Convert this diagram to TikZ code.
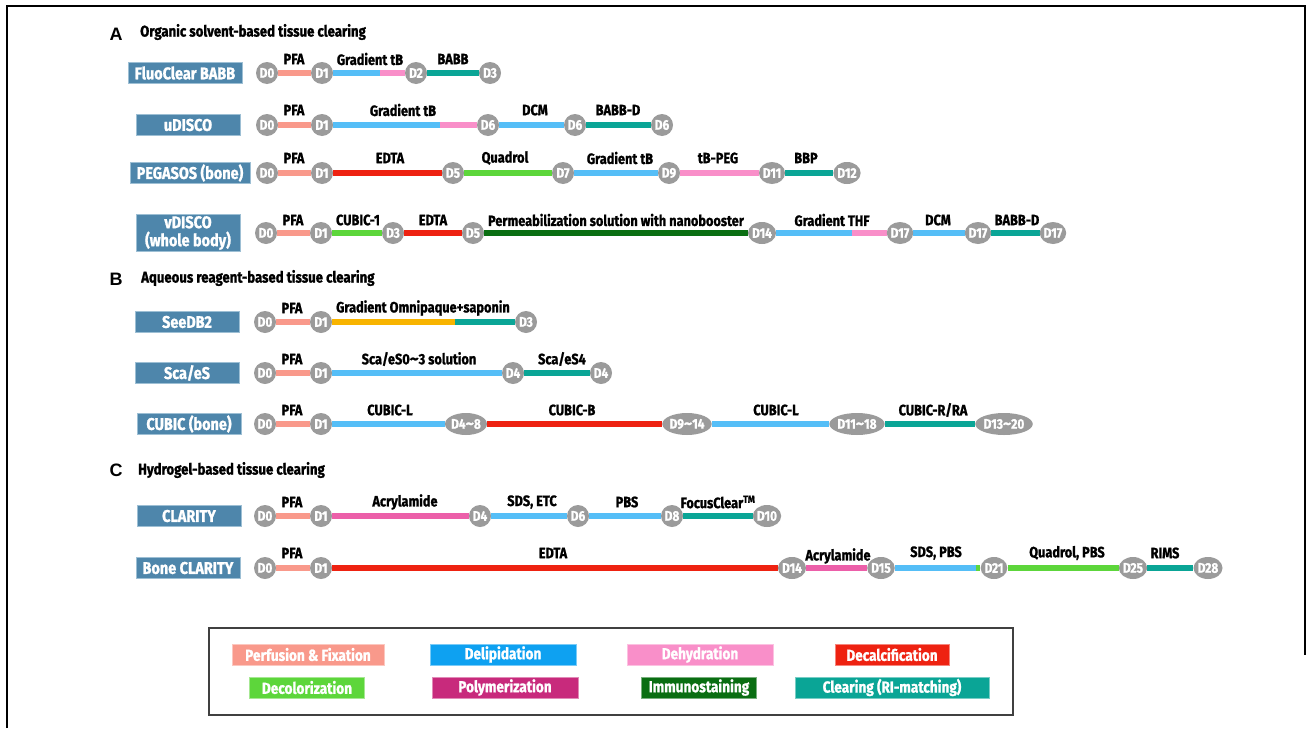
\documentclass[tikz,border=0pt]{standalone}
\usepackage{fontspec}
\setmainfont{Fira Sans}
\newfontfamily\cf{Fira Sans}[FakeStretch=0.85, BoldFeatures={FakeBold=1.2}]
\newfontfamily\arialf{Liberation Sans}
\usetikzlibrary{shapes.geometric,backgrounds}
\definecolor{csalmon}{HTML}{F9998B}
\definecolor{cblue}{HTML}{55BEF7}
\definecolor{cpink}{HTML}{F98FC9}
\definecolor{cred}{HTML}{EE2211}
\definecolor{cgreen}{HTML}{5DD63B}
\definecolor{cdgreen}{HTML}{0A6E12}
\definecolor{cteal}{HTML}{0AA596}
\definecolor{corange}{HTML}{F8B400}
\definecolor{cmag}{HTML}{EC5FA9}
\definecolor{lblue}{HTML}{0EA1F1}
\definecolor{lpoly}{HTML}{C82A7C}
\definecolor{mblue}{HTML}{4E86AB}
\definecolor{mborder}{HTML}{9DBFD4}
\definecolor{dgray}{HTML}{9B9B9B}
\newcommand{\tld}{\scalebox{1.35}[1.1]{\textasciitilde}}
\tikzset{
 day/.style={ellipse, fill=dgray, text=white, inner xsep=0pt, inner ysep=0pt, minimum width=22pt, minimum height=22pt, font=\cf\bfseries\fontsize{14}{14}\selectfont},
 mbox/.style={fill=mblue, draw=mborder, line width=0.6pt, text=white, font=\cf\bfseries\fontsize{17}{18}\selectfont, minimum height=21pt, minimum width=104pt, inner sep=0pt, align=center},
 seg/.style={line width=5.5pt},
 slab/.style={font=\cf\bfseries\fontsize{15}{15}\selectfont, inner sep=0pt},
 ttl/.style={font=\cf\bfseries\fontsize{15.5}{15.5}\selectfont, anchor=west, inner sep=0pt},
 sec/.style={font=\arialf\bfseries\fontsize{18}{18}\selectfont, inner sep=0pt},
 leg/.style={fill=#1, draw=#1!55!white, line width=0.6pt, text=white, font=\cf\bfseries\fontsize{16}{16}\selectfont, minimum height=21pt, inner sep=0pt}
}
\begin{document}
\begin{tikzpicture}[x=1pt,y=-1pt]
\useasboundingbox (0,0) rectangle (1316,728);
\draw[line width=1.2pt] (7,728) -- (7,6) -- (1305,6) -- (1305,655);

% Section A
\node[sec] (sA) at (116,34) {A};
\node[ttl] (tA) at (140,32) {Organic solvent-based tissue clearing};

% FluoClear BABB
\node[mbox, minimum width=114pt] (m1) at (185,73) {FluoClear BABB};
\node[day] (f0) at (267,73) {D0};
\node[day] (f1) at (322,73) {D1};
\node[day] (f2) at (416,73) {D2};
\node[day] (f3) at (490,73) {D3};
\coordinate (f1p) at (380,73);
\node[slab] (lf1) at (294,59) {PFA};
\node[slab] (lf2) at (370,59) {Gradient tB};
\node[slab] (lf3) at (453,59) {BABB};

% uDISCO
\node[mbox] (m2) at (188,125) {uDISCO};
\node[day] (u0) at (267,125) {D0};
\node[day] (u1) at (322,125) {D1};
\node[day] (u2) at (488,125) {D6};
\node[day] (u3) at (575,125) {D6};
\node[day] (u4) at (662,125) {D6};
\coordinate (u1p) at (440,125);
\node[slab] (lu1) at (294,110) {PFA};
\node[slab] (lu2) at (403,110) {Gradient tB};
\node[slab] (lu3) at (535,110) {DCM};
\node[slab] (lu4) at (618,110) {BABB-D};

% PEGASOS
\node[mbox, minimum width=120pt] (m3) at (190,173) {PEGASOS (bone)};
\node[day] (p0) at (267,173) {D0};
\node[day] (p1) at (322,173) {D1};
\node[day] (p2) at (453,173) {D5};
\node[day] (p3) at (563,173) {D7};
\node[day] (p4) at (669,173) {D9};
\node[day] (p5) at (772,173) {D11};
\node[day] (p6) at (847,173) {D12};
\node[slab] (lp1) at (294,158) {PFA};
\node[slab] (lp2) at (390,158) {EDTA};
\node[slab] (lp3) at (505,158) {Quadrol};
\node[slab] (lp4) at (620,158) {Gradient tB};
\node[slab] (lp5) at (718,158) {tB-PEG};
\node[slab] (lp6) at (806,158) {BBP};

% vDISCO
\node[mbox, minimum height=37pt] (m4) at (188,233) {vDISCO\\(whole body)};
\node[day] (v0) at (266,233) {D0};
\node[day] (v1) at (321,233) {D1};
\node[day] (v2) at (393,233) {D3};
\node[day] (v3) at (473,233) {D5};
\node[day] (v4) at (762,233) {D14};
\node[day] (v5) at (900,233) {D17};
\node[day] (v6) at (978,233) {D17};
\node[day] (v7) at (1053,233) {D17};
\coordinate (v4p) at (852,233);
\node[slab] (lv1) at (293,220) {PFA};
\node[slab] (lv2) at (358,220) {CUBIC-1};
\node[slab] (lv3) at (433,220) {EDTA};
\node[slab] (lv4) at (616,220) {Permeabilization solution with nanobooster};
\node[slab] (lv5) at (832,220) {Gradient THF};
\node[slab] (lv6) at (938,220) {DCM};
\node[slab] (lv7) at (1017,220) {BABB-D};

% Section B
\node[sec] (sB) at (116,279) {B};
\node[ttl] (tB) at (141,278) {Aqueous reagent-based tissue clearing};

% SeeDB2
\node[mbox] (m5) at (187,322) {SeeDB2};
\node[day] (s0) at (265,322) {D0};
\node[day] (s1) at (321,322) {D1};
\node[day] (s2) at (526,322) {D3};
\coordinate (s1p) at (455,322);
\node[slab] (ls1) at (292,308) {PFA};
\node[slab] (ls2) at (423,308) {Gradient Omnipaque+saponin};

% Sca/eS
\node[mbox] (m6) at (187,373) {Sca/eS};
\node[day] (c0) at (265,373) {D0};
\node[day] (c1) at (321,373) {D1};
\node[day] (c2) at (513,373) {D4};
\node[day] (c3) at (601,373) {D4};
\node[slab] (lc1) at (292,359) {PFA};
\node[slab] (lc2) at (419,359) {Sca/eS0\tld3 solution};
\node[slab] (lc3) at (562,359) {Sca/eS4};

% CUBIC (bone)
\node[mbox] (m7) at (189,424) {CUBIC (bone)};
\node[day] (k0) at (265,424) {D0};
\node[day] (k1) at (321,424) {D1};
\node[day] (k2) at (466,424) {D4\tld8};
\node[day] (k3) at (687,424) {D9\tld14};
\node[day] (k4) at (857,424) {D11\tld18};
\node[day] (k5) at (1004,424) {D13\tld20};
\node[slab] (lk1) at (292,410) {PFA};
\node[slab] (lk2) at (390,410) {CUBIC-L};
\node[slab] (lk3) at (572,410) {CUBIC-B};
\node[slab] (lk4) at (776,410) {CUBIC-L};
\node[slab] (lk5) at (933,410) {CUBIC-R/RA};

% Section C
\node[sec] (sC) at (116,470) {C};
\node[ttl] (tC) at (138,470) {Hydrogel-based tissue clearing};

% CLARITY
\node[mbox] (m8) at (189,516) {CLARITY};
\node[day] (r0) at (265,516) {D0};
\node[day] (r1) at (321,516) {D1};
\node[day] (r2) at (480,516) {D4};
\node[day] (r3) at (578,516) {D6};
\node[day] (r4) at (672,516) {D8};
\node[day] (r5) at (767,516) {D10};
\node[slab] (lr1) at (292,502) {PFA};
\node[slab] (lr2) at (405,502) {Acrylamide};
\node[slab] (lr3) at (532,502) {SDS, ETC};
\node[slab] (lr4) at (627,502) {PBS};
\node[slab] (lr5) at (718,502) {FocusClear\textsuperscript{TM}};

% Bone CLARITY
\node[mbox] (m9) at (188,568) {Bone CLARITY};
\node[day] (b0) at (265,568) {D0};
\node[day] (b1) at (321,568) {D1};
\node[day] (b2) at (792,568) {D14};
\node[day] (b3) at (881,568) {D15};
\node[day] (b4) at (994,568) {D21};
\node[day] (b5) at (1133,568) {D25};
\node[day] (b6) at (1208,568) {D28};
\coordinate (b3p) at (976,568);
\node[slab] (lb1) at (292,553) {PFA};
\node[slab] (lb2) at (553,553) {EDTA};
\node[slab] (lb3) at (838,556) {Acrylamide};
\node[slab] (lb4) at (936,553) {SDS, PBS};
\node[slab] (lb5) at (1067,553) {Quadrol, PBS};
\node[slab] (lb6) at (1165,553) {RIMS};

% Legend
\node[draw=black!75, line width=1.3pt, minimum width=804pt, minimum height=87pt, inner sep=0pt] (lg) at (611,671.5) {};
\node[leg=csalmon, minimum width=152pt] (g1) at (308,654.5) {Perfusion \& Fixation};
\node[leg=lblue, minimum width=146pt] (g2) at (503,654.5) {Delipidation};
\node[leg=cpink, minimum width=146pt] (g3) at (700,654.5) {Dehydration};
\node[leg=cred, minimum width=114pt] (g4) at (892,654.5) {Decalcification};
\node[leg=cgreen, minimum width=115pt] (g5) at (307,687.5) {Decolorization};
\node[leg=lpoly, minimum width=146pt] (g6) at (505,687.5) {Polymerization};
\node[leg=cdgreen, minimum width=115pt] (g7) at (699,687.5) {Immunostaining};
\node[leg=cteal, minimum width=194pt] (g8) at (892,687.5) {Clearing (RI-matching)};

\begin{pgfonlayer}{background}
\draw[seg,csalmon] (f0) -- (f1);
\draw[seg,cblue] (f1) -- (f1p);
\draw[seg,cpink] (f1p) -- (f2);
\draw[seg,cteal] (f2) -- (f3);

\draw[seg,csalmon] (u0) -- (u1);
\draw[seg,cblue] (u1) -- (u1p);
\draw[seg,cpink] (u1p) -- (u2);
\draw[seg,cblue] (u2) -- (u3);
\draw[seg,cteal] (u3) -- (u4);

\draw[seg,csalmon] (p0) -- (p1);
\draw[seg,cred] (p1) -- (p2);
\draw[seg,cgreen] (p2) -- (p3);
\draw[seg,cblue] (p3) -- (p4);
\draw[seg,cpink] (p4) -- (p5);
\draw[seg,cteal] (p5) -- (p6);

\draw[seg,csalmon] (v0) -- (v1);
\draw[seg,cgreen] (v1) -- (v2);
\draw[seg,cred] (v2) -- (v3);
\draw[seg,cdgreen] (v3) -- (v4);
\draw[seg,cblue] (v4) -- (v4p);
\draw[seg,cpink] (v4p) -- (v5);
\draw[seg,cblue] (v5) -- (v6);
\draw[seg,cteal] (v6) -- (v7);

\draw[seg,csalmon] (s0) -- (s1);
\draw[seg,corange] (s1) -- (s1p);
\draw[seg,cteal] (s1p) -- (s2);

\draw[seg,csalmon] (c0) -- (c1);
\draw[seg,cblue] (c1) -- (c2);
\draw[seg,cteal] (c2) -- (c3);

\draw[seg,csalmon] (k0) -- (k1);
\draw[seg,cblue] (k1) -- (k2);
\draw[seg,cred] (k2) -- (k3);
\draw[seg,cblue] (k3) -- (k4);
\draw[seg,cteal] (k4) -- (k5);

\draw[seg,csalmon] (r0) -- (r1);
\draw[seg,cmag] (r1) -- (r2);
\draw[seg,cblue] (r2) -- (r3);
\draw[seg,cblue] (r3) -- (r4);
\draw[seg,cteal] (r4) -- (r5);

\draw[seg,csalmon] (b0) -- (b1);
\draw[seg,cred] (b1) -- (b2);
\draw[seg,cmag] (b2) -- (b3);
\draw[seg,cblue] (b3) -- (b3p);
\draw[seg,cgreen] (b3p) -- (b4);
\draw[seg,cgreen] (b4) -- (b5);
\draw[seg,cteal] (b5) -- (b6);
\end{pgfonlayer}
\end{tikzpicture}
\end{document}
